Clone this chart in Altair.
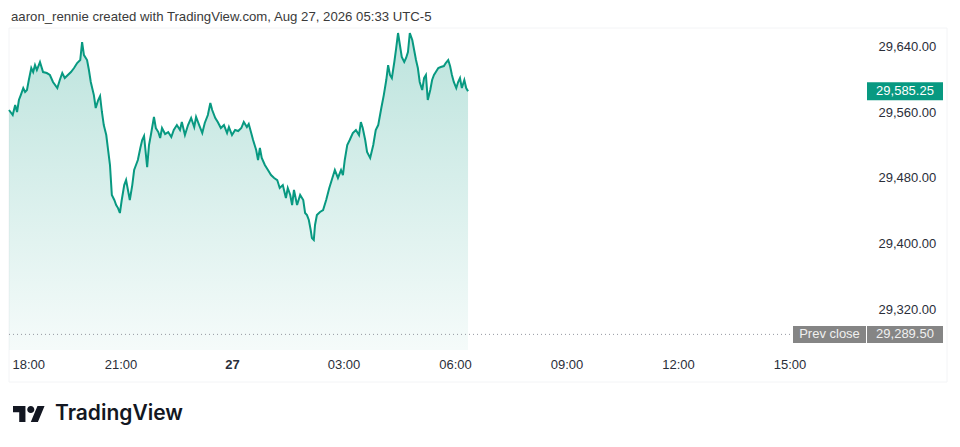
import altair as alt
import pandas as pd

# minutes after 18:00 (Aug 26)
minutes = [
    0, 6, 10, 13, 16, 19, 23, 26, 29, 32,
    36, 39, 42, 45, 50, 55, 61, 66, 71, 78,
    82, 86, 90, 95, 100, 105, 110, 115, 118, 121,
    126, 129, 132, 137, 140, 144, 147, 150, 153, 157,
    160, 163, 166, 170, 173, 176, 179, 182, 186, 189,
    192, 195, 199, 202, 205, 208, 212, 215, 218, 223,
    226, 229, 234, 237, 241, 244, 247, 252, 257, 262,
    266, 271, 276, 279, 284, 289, 294, 299, 302, 307,
    312, 316, 321, 325, 328, 333, 337, 342, 347, 352,
    355, 360, 365, 370, 375, 379, 384, 387, 391, 394,
    399, 402, 405, 408, 413, 418, 423, 428, 433, 437,
    442, 447, 450, 454, 457, 460, 465, 470, 475, 478,
    481, 484, 487, 489, 492, 494, 497, 502, 507, 512,
    517, 521, 526, 531, 536, 539, 542, 546, 550, 555,
    560, 565, 568, 571, 575, 578, 583, 588, 592, 596,
    601, 605, 609, 612, 615, 618, 622, 625, 628, 631,
    634, 638, 641, 644, 647, 651, 654, 657, 660, 663,
    667, 670, 673, 676, 680, 683, 686, 689, 693, 697,
    702, 705, 709, 712, 715, 718, 722, 725, 728, 731,
    735, 738, 741,
]

prices = [
    29562.5, 29556.4, 29568.6, 29560.1, 29574.7, 29580.7, 29589.2, 29584.4, 29586.8, 29599.0,
    29613.6, 29608.7, 29617.2, 29611.2, 29620.9, 29608.7, 29607.5, 29605.1, 29596.6, 29589.2,
    29599.0, 29607.5, 29601.4, 29605.1, 29608.7, 29613.6, 29619.7, 29623.3, 29645.2, 29629.4,
    29623.3, 29611.2, 29596.6, 29580.7, 29564.9, 29574.7, 29579.5, 29560.1, 29544.2, 29532.1,
    29513.8, 29495.6, 29459.1, 29453.0, 29446.9, 29443.2, 29437.2, 29453.0, 29471.2, 29477.3,
    29465.2, 29453.0, 29471.2, 29489.5, 29495.6, 29501.7, 29516.3, 29526.0, 29530.9, 29493.1,
    29519.9, 29532.1, 29554.0, 29540.6, 29535.7, 29528.4, 29540.6, 29533.3, 29535.7, 29529.6,
    29538.2, 29544.2, 29538.2, 29547.9, 29532.1, 29544.2, 29552.8, 29541.8, 29554.0, 29544.2,
    29534.5, 29546.7, 29556.4, 29571.0, 29562.5, 29552.8, 29547.9, 29540.6, 29544.2, 29534.5,
    29541.8, 29532.1, 29538.2, 29536.9, 29540.6, 29547.9, 29541.8, 29545.5, 29534.5, 29526.0,
    29513.8, 29501.7, 29516.3, 29504.1, 29495.6, 29489.5, 29483.4, 29479.8, 29477.3, 29467.6,
    29471.2, 29455.4, 29467.6, 29459.1, 29446.9, 29465.2, 29446.9, 29459.1, 29453.0, 29437.2,
    29434.7, 29428.7, 29416.5, 29406.7, 29404.3, 29422.6, 29434.7, 29438.4, 29440.8, 29453.0,
    29467.6, 29477.3, 29489.5, 29479.8, 29489.5, 29483.4, 29501.7, 29519.9, 29526.0, 29534.5,
    29538.2, 29532.1, 29547.9, 29540.6, 29526.0, 29511.4, 29504.1, 29519.9, 29538.2, 29544.2,
    29564.9, 29580.7, 29599.0, 29617.2, 29605.1, 29601.4, 29620.9, 29637.9, 29656.2, 29641.6,
    29627.0, 29620.9, 29625.8, 29633.1, 29656.2, 29647.7, 29635.5, 29623.3, 29613.6, 29596.6,
    29586.8, 29601.4, 29605.1, 29574.7, 29586.8, 29599.0, 29605.1, 29608.7, 29613.6, 29614.8,
    29616.0, 29619.7, 29623.3, 29616.0, 29605.1, 29596.6, 29589.2, 29596.6, 29601.4, 29589.2,
    29599.0, 29589.2, 29585.25,
]

x_tick_values = [0, 180, 360, 540, 720, 900, 1080, 1260]
x_tick_labels = ["18:00", "21:00", "27", "03:00", "06:00", "09:00", "12:00", "15:00"]
y_tick_values = [29320, 29400, 29480, 29560, 29640]

last_price = 29585.25
prev_close = 29289.50
title_text = "aaron_rennie created with TradingView.com, Aug 27, 2026 05:33 UTC-5"

X_DOMAIN = [0, 1383.4]
Y_DOMAIN = [29270.5, 29662.3]
W, H = 857, 322
TEAL = "#089981"
FONT = "Liberation Sans"

df = pd.DataFrame({"m": minutes, "p": prices})

label_arr = "[" + ",".join("'%s'" % s for s in x_tick_labels) + "]"

xenc = alt.X(
    "m:Q",
    scale=alt.Scale(domain=X_DOMAIN, nice=False, zero=False),
    axis=alt.Axis(
        values=x_tick_values,
        labelExpr=label_arr + "[round(datum.value/180)]",
        title=None, ticks=False, domain=False, grid=False,
        labelFont=FONT, labelFontSize=13, labelColor="#2a2e39",
        labelPadding=8, labelFlush=True, labelFlushOffset=-3,
        labelFontWeight={"condition": {"test": "datum.value == 360", "value": "bold"}, "value": "normal"},
    ),
)
yscale = alt.Scale(domain=Y_DOMAIN, nice=False, zero=False)
yenc = alt.Y(
    "p:Q",
    scale=yscale,
    axis=alt.Axis(
        orient="right", values=y_tick_values, format=",.2f", title=None,
        ticks=False, domain=False, grid=False,
        labelFont=FONT, labelFontSize=13, labelColor="#2a2e39",
        labelPadding=12, labelAlign="left",
    ),
)

base = alt.Chart(df)

area = base.mark_area(
    color=alt.Gradient(
        gradient="linear",
        stops=[
            alt.GradientStop(color="rgba(8,153,129,0.27)", offset=0),
            alt.GradientStop(color="rgba(8,153,129,0.04)", offset=1),
        ],
        x1=1, x2=1, y1=0, y2=1,
    ),
    interpolate="linear",
).encode(x=xenc, y=yenc, y2=alt.datum(Y_DOMAIN[0]))

line = base.mark_line(color=TEAL, strokeWidth=2).encode(x="m:Q", y="p:Q")

prev_rule = alt.Chart(pd.DataFrame({"p": [prev_close]})).mark_rule(
    color="#9598a1", strokeDash=[1, 3], strokeWidth=1
).encode(y=alt.Y("p:Q", scale=yscale))

# price badges
last_box = alt.Chart(pd.DataFrame({"p": [last_price]})).mark_rect(
    color=TEAL, yOffset=-9, y2Offset=9
).encode(x=alt.value(858), x2=alt.value(934), y=alt.Y("p:Q", scale=yscale), y2="p:Q")
last_txt = alt.Chart(pd.DataFrame({"p": [last_price]})).mark_text(
    color="white", font=FONT, fontSize=13, align="center", baseline="middle"
).encode(x=alt.value(896), y=alt.Y("p:Q", scale=yscale), text=alt.Text("p:Q", format=",.2f"))

prev_box1 = alt.Chart(pd.DataFrame({"p": [prev_close]})).mark_rect(
    color="#858585", yOffset=-8.5, y2Offset=8.5
).encode(x=alt.value(784), x2=alt.value(857), y=alt.Y("p:Q", scale=yscale), y2="p:Q")
prev_box2 = alt.Chart(pd.DataFrame({"p": [prev_close]})).mark_rect(
    color="#858585", yOffset=-8.5, y2Offset=8.5
).encode(x=alt.value(858), x2=alt.value(934), y=alt.Y("p:Q", scale=yscale), y2="p:Q")
prev_txt1 = alt.Chart(pd.DataFrame({"p": [prev_close], "t": ["Prev close"]})).mark_text(
    color="#f0f0f0", font=FONT, fontSize=13, align="center", baseline="middle"
).encode(x=alt.value(820.5), y=alt.Y("p:Q", scale=yscale), text="t:N")
prev_txt2 = alt.Chart(pd.DataFrame({"p": [prev_close]})).mark_text(
    color="#f0f0f0", font=FONT, fontSize=13, align="center", baseline="middle"
).encode(x=alt.value(896), y=alt.Y("p:Q", scale=yscale), text=alt.Text("p:Q", format=",.2f"))

frame = alt.Chart(pd.DataFrame({"a": [0]})).mark_rect(
    fill=None, stroke="#f3f4f6", strokeWidth=1
).encode(x=alt.value(0), x2=alt.value(938), y=alt.value(0), y2=alt.value(354))

title = alt.Chart(pd.DataFrame({"t": [title_text]})).mark_text(
    font=FONT, fontSize=13.2, color="#3a3a3a", align="left", baseline="middle"
).encode(x=alt.value(2), y=alt.value(-11), text="t:N")

LOGO = ("M-1,-0.5 L-0.222,-0.5 L-0.222,0.5 L-0.611,0.5 L-0.611,-0.111 L-1,-0.111 Z "
        "M0.556,0.5 L0.111,0.5 L0.528,-0.5 L0.972,-0.5 Z "
        "M0.333,-0.278 A0.222,0.222 0 1 1 -0.111,-0.278 A0.222,0.222 0 1 1 0.333,-0.278 Z")
logo = alt.Chart(pd.DataFrame({"a": [0]})).mark_point(
    shape=LOGO, size=1024, filled=True, color="#131722", opacity=1, strokeWidth=0
).encode(x=alt.value(20), y=alt.value(386))
brand = alt.Chart(pd.DataFrame({"t": ["TradingView"]})).mark_text(
    font="Inter", fontSize=21, fontWeight=600, color="#131722", align="left", baseline="middle"
).encode(x=alt.value(46), y=alt.value(386), text="t:N")

chart = alt.layer(
    frame, area, line, prev_rule, prev_box1, prev_box2, prev_txt1, prev_txt2,
    last_box, last_txt, title, logo, brand,
).properties(
    width=W, height=H,
    background="white",
    autosize=alt.AutoSizeParams(type="none"),
    padding={"left": 1, "top": 20, "right": 84, "bottom": 84},
).configure_view(stroke="transparent", strokeWidth=0)

chart.save("out.html", embed_options={"renderer": "svg", "actions": False})
